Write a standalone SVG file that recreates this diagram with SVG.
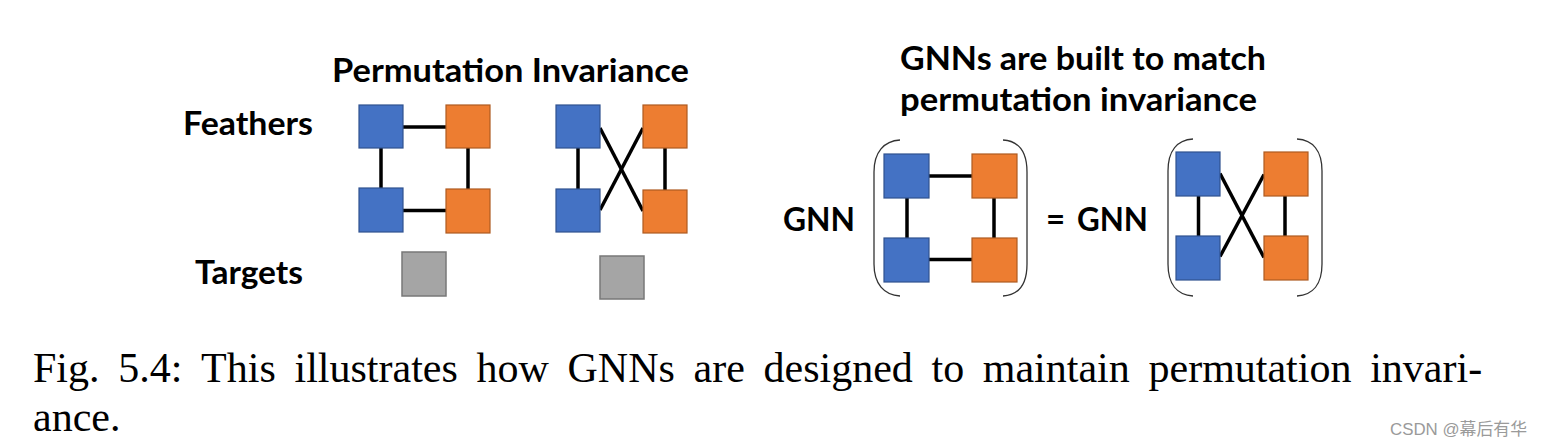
<svg xmlns="http://www.w3.org/2000/svg" width="1542" height="447" viewBox="0 0 1542 447">
<style>
.bg{fill:#ffffff}
.b{fill:#4472C4;stroke:#2F528F;stroke-width:1.2}
.o{fill:#ED7D31;stroke:#AE5A21;stroke-width:1.2}
.g{fill:#A5A5A5;stroke:#787878;stroke-width:1.5}
.e{stroke:#000000;stroke-width:3.5;fill:none;stroke-linecap:butt}
.p{stroke:#333333;stroke-width:1.3;fill:none}
.t{font-family:Lato,"Open Sans","Liberation Sans",sans-serif;font-weight:bold;font-size:33px;fill:#000000}
.cap{font-family:"Liberation Serif","Times New Roman",serif;font-size:42px;fill:#000000}
.wm{font-family:"Liberation Sans","Noto Sans CJK SC",sans-serif;font-size:16.5px;fill:#9a9a9a}
</style>
<rect class="bg" x="0" y="0" width="1542" height="447"/>

<g id="labels">
<text class="t" x="332" y="82" textLength="357" lengthAdjust="spacingAndGlyphs">Permutation Invariance</text>
<text class="t" x="183" y="135" textLength="130" lengthAdjust="spacingAndGlyphs">Feathers</text>
<text class="t" x="195" y="284" textLength="108" lengthAdjust="spacingAndGlyphs">Targets</text>
<text class="t" x="900" y="70" textLength="366" lengthAdjust="spacingAndGlyphs">GNNs are built to match</text>
<text class="t" x="900" y="111" textLength="357" lengthAdjust="spacingAndGlyphs">permutation invariance</text>
<text class="t" x="783" y="231" textLength="72" lengthAdjust="spacingAndGlyphs">GNN</text>
<text class="t" x="1046" y="231">=</text>
<text class="t" x="1077" y="231" textLength="71" lengthAdjust="spacingAndGlyphs">GNN</text>
</g>

<g id="connectors">
<!-- graph A -->
<line class="e" x1="403" y1="127" x2="446" y2="127"/>
<line class="e" x1="381" y1="148" x2="381" y2="188"/>
<line class="e" x1="468" y1="148" x2="468" y2="189"/>
<line class="e" x1="403" y1="210.5" x2="446" y2="210.5"/>
<!-- graph B -->
<line class="e" x1="578" y1="148" x2="578" y2="189"/>
<line class="e" x1="665" y1="148" x2="665" y2="190"/>
<line class="e" x1="600" y1="128" x2="643" y2="211"/>
<line class="e" x1="600" y1="210" x2="643" y2="128"/>
<!-- graph C -->
<line class="e" x1="929" y1="176" x2="972" y2="176"/>
<line class="e" x1="907" y1="198" x2="907" y2="238"/>
<line class="e" x1="994" y1="198" x2="994" y2="238"/>
<line class="e" x1="929" y1="259.5" x2="972" y2="259.5"/>
<!-- graph D -->
<line class="e" x1="1198.5" y1="196" x2="1198.5" y2="236"/>
<line class="e" x1="1285" y1="196" x2="1285" y2="236"/>
<line class="e" x1="1220" y1="173.5" x2="1264" y2="257.5"/>
<line class="e" x1="1220" y1="256.5" x2="1264" y2="174.5"/>
</g>

<g id="parens">
<path class="p" d="M900,140 C884,141 874,152 874,172 L874,264 C874,284 884,295 900,296"/>
<path class="p" d="M1003,140 C1019,141 1027,152 1027,172 L1027,264 C1027,284 1019,295 1003,296"/>
<path class="p" d="M1193,139 C1177,140 1168,151 1168,171 L1168,264 C1168,284 1177,295 1193,296"/>
<path class="p" d="M1297,139 C1313,140 1322,151 1322,171 L1322,264 C1322,284 1313,295 1297,296"/>
</g>

<g id="graphA">
<rect id="a1" class="b" x="359" y="105" width="44" height="43"/>
<rect id="a2" class="o" x="446" y="105" width="44" height="43"/>
<rect id="a3" class="b" x="359" y="188" width="44" height="44"/>
<rect id="a4" class="o" x="446" y="189" width="44" height="44"/>
<rect id="a5" class="g" x="402" y="252" width="44" height="44"/>
</g>
<g id="graphB">
<rect id="b1" class="b" x="556" y="105" width="44" height="43"/>
<rect id="b2" class="o" x="643" y="105" width="44" height="43"/>
<rect id="b3" class="b" x="556" y="189" width="44" height="43"/>
<rect id="b4" class="o" x="643" y="190" width="44" height="43"/>
<rect id="b5" class="g" x="600" y="256" width="44" height="43"/>
</g>
<g id="graphC">
<rect id="c1" class="b" x="884" y="154" width="45" height="44"/>
<rect id="c2" class="o" x="972" y="154" width="45" height="44"/>
<rect id="c3" class="b" x="884" y="238" width="45" height="44"/>
<rect id="c4" class="o" x="972" y="238" width="45" height="44"/>
</g>
<g id="graphD">
<rect id="d1" class="b" x="1176" y="152" width="44" height="44"/>
<rect id="d2" class="o" x="1264" y="152" width="44" height="44"/>
<rect id="d3" class="b" x="1176" y="236" width="44" height="44"/>
<rect id="d4" class="o" x="1264" y="236" width="44" height="44"/>
</g>

<g id="caption">
<text class="cap" y="382"><tspan x="33">Fig.</tspan><tspan x="118.2">5.4:</tspan><tspan x="201.1">This</tspan><tspan x="294.5">illustrates</tspan><tspan x="476.5">how</tspan><tspan x="567.5">GNNs</tspan><tspan x="693.5">are</tspan><tspan x="763.5">designed</tspan><tspan x="931.5">to</tspan><tspan x="982.8">maintain</tspan><tspan x="1148.5">permutation</tspan><tspan x="1370.2">invari-</tspan></text>
<text class="cap" x="33" y="431">ance.</text>
</g>

<text class="wm" x="1390" y="435" textLength="137" lengthAdjust="spacingAndGlyphs">CSDN @幕后有华</text>
</svg>
